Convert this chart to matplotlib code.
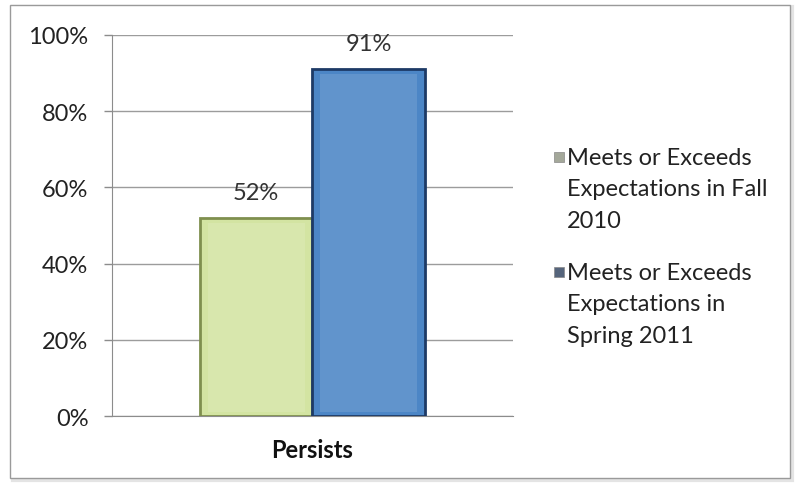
import matplotlib.pyplot as plt
from matplotlib.patches import Rectangle
import numpy as np

plt.rcParams['font.family'] = ['Lato', 'DejaVu Sans']

category = "Persists"
series = ["Meets or Exceeds\nExpectations in Fall\n2010",
          "Meets or Exceeds\nExpectations in\nSpring 2011"]
values = [52, 91]
yticks = [0, 20, 40, 60, 80, 100]

fills = ['#d3e4a2', '#4c86c6']
edges = ['#7f8f4e', '#1d3a66']
legend_colors = ['#a4a89a', '#56657c']

fig = plt.figure(figsize=(8, 4.85), dpi=100)
fig.patch.set_facecolor('white')

# outer frame with a faint shadow
fig.add_artist(Rectangle((0.016, 0.008), 0.974, 0.975, transform=fig.transFigure,
                         facecolor='none', edgecolor='#e4e4e4', lw=3, zorder=0))
fig.add_artist(Rectangle((0.013, 0.013), 0.974, 0.975, transform=fig.transFigure,
                         facecolor='white', edgecolor='#9a9a9a', lw=1, zorder=0))

ax = fig.add_axes([0.14, 0.140, 0.501, 0.786])
ax.set_facecolor('none')

width = 0.28
x = np.array([-width / 2, width / 2])
for xi, v, fc, ec in zip(x, values, fills, edges):
    ax.bar(xi, v, width=width, color=fc, edgecolor=ec, linewidth=2, zorder=3)
    # lighter inner panel for the bevelled look
    ax.bar(xi, v - 2.5, bottom=1.2, width=width * 0.86, color='white',
           alpha=0.12, linewidth=0, zorder=4)
    ax.text(xi, v + 4.0, f"{v}%", ha='center', va='bottom', fontsize=17,
            color='#333333', zorder=5)

ax.set_xlim(-0.5, 0.5)
ax.set_ylim(0, 100)
ax.set_yticks(yticks)
ax.set_yticklabels([f"{t}%" for t in yticks], fontsize=17, color='#222222')
ax.set_xticks([0])
ax.set_xticklabels([category], fontsize=17, fontweight='bold', color='#111111')
ax.tick_params(axis='x', length=0, pad=16)
ax.tick_params(axis='y', length=6, width=1, color='#8c8c8c', pad=11)

ax.yaxis.grid(True, color='#9c9c9c', lw=1, zorder=0)
ax.set_axisbelow(True)
for side in ['top', 'right']:
    ax.spines[side].set_visible(False)
for side in ['left', 'bottom']:
    ax.spines[side].set_color('#8c8c8c')

# legend: square marker beside the first line of each wrapped label
legend_top = [0.695, 0.458]
for label, c, ytop in zip(series, legend_colors, legend_top):
    fig.text(0.709, ytop, label, ha='left', va='top', fontsize=17,
             linespacing=1.62, color='#222222')
    fig.add_artist(Rectangle((0.692, ytop - 0.031), 0.0125, 0.021,
                             transform=fig.transFigure, facecolor=c,
                             edgecolor='#888888', lw=0.5))

fig.savefig('out.png', dpi=100)
